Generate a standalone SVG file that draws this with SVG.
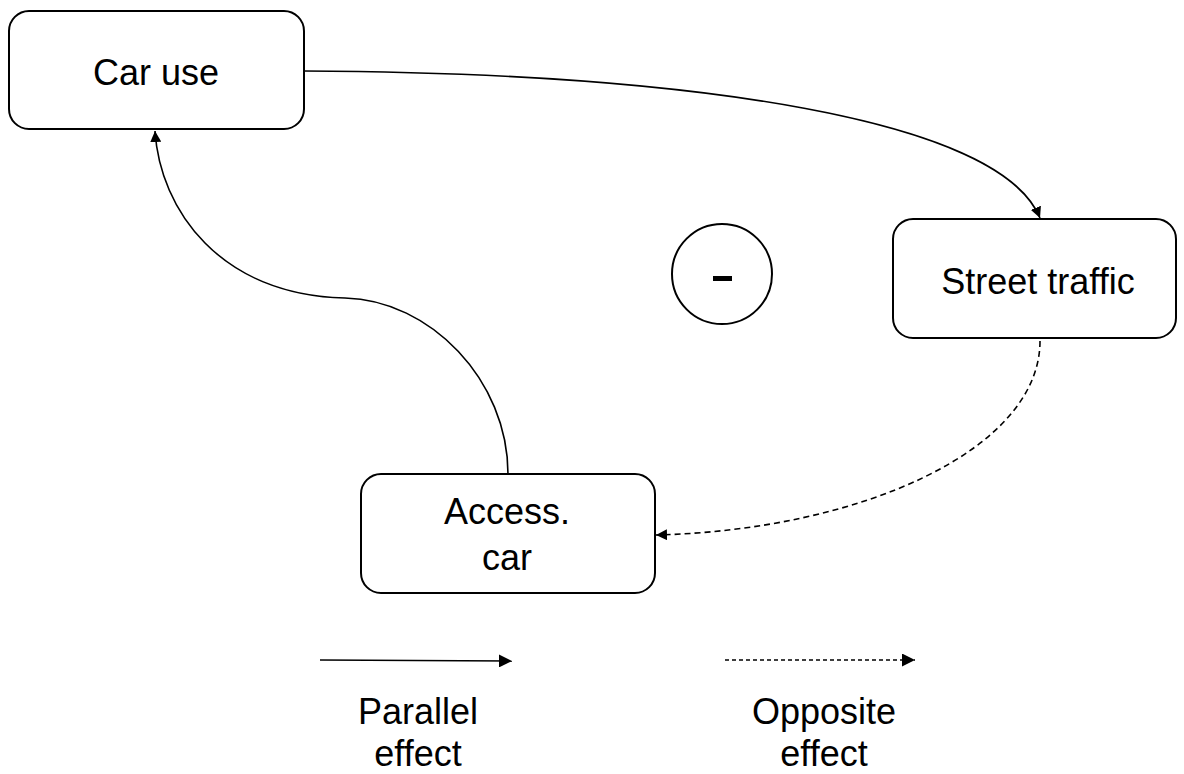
<svg xmlns="http://www.w3.org/2000/svg" width="1184" height="774" viewBox="0 0 1184 774">
<style>
.box{fill:#fff;stroke:#000;stroke-width:2}
.t{font-family:"Liberation Sans",Arial,sans-serif;font-size:36px;fill:#000;text-anchor:middle}
.c{fill:none;stroke:#000;stroke-width:1.6}
.d{stroke-dasharray:6 4}
</style>
<defs>
<marker id="ah" viewBox="0 0 10 10" refX="10" refY="5" markerWidth="11" markerHeight="11" markerUnits="userSpaceOnUse" orient="auto">
<path d="M0,0 L10,5 L0,10 z" fill="#000"/>
</marker>
<marker id="ahl" viewBox="0 0 10 10" refX="10" refY="5" markerWidth="13" markerHeight="13" markerUnits="userSpaceOnUse" orient="auto">
<path d="M0,0 L10,5 L0,10 z" fill="#000"/>
</marker>
</defs>
<rect width="1184" height="774" fill="#fff"/>
<g id="connectors">
<path class="c" d="M304,71 C700,73 1000,120 1040,218" marker-end="url(#ah)"/>
<path class="c" d="M508,474 C508,380 430,300 345,298 C220,295 160,210 155,131" marker-end="url(#ah)"/>
<path class="c d" d="M1040,341 C1040,450 860,530 656,535" marker-end="url(#ah)"/>
</g>
<g id="car-use">
<rect class="box" x="9" y="11" width="295" height="118" rx="20"/>
<text class="t" x="156" y="85">Car use</text>
</g>
<g id="street-traffic">
<rect class="box" x="893" y="219" width="283" height="119" rx="20"/>
<text class="t" x="1038" y="294">Street traffic</text>
</g>
<g id="access-car">
<rect class="box" x="361" y="474" width="294" height="119" rx="20"/>
<text class="t" x="507" y="524">Access.</text>
<text class="t" x="507" y="570">car</text>
</g>
<g id="loop-sign">
<circle cx="722" cy="274" r="50" fill="#fff" stroke="#000" stroke-width="2"/>
<rect x="713" y="276" width="19" height="5" fill="#000"/>
</g>
<g id="legend">
<path class="c" d="M320,660 L512,661" stroke-width="1.2" marker-end="url(#ahl)"/>
<path class="c" d="M725,660 L915,660" stroke-width="1.2" stroke-dasharray="4 3" marker-end="url(#ahl)"/>
<text class="t" x="418" y="724">Parallel</text>
<text class="t" x="418" y="766">effect</text>
<text class="t" x="824" y="724">Opposite</text>
<text class="t" x="824" y="766">effect</text>
</g>
</svg>
